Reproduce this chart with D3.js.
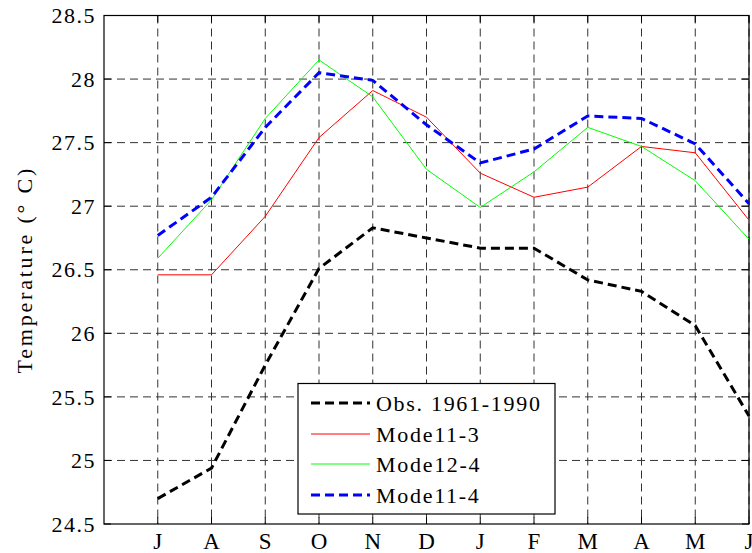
<!DOCTYPE html>
<html>
<head>
<meta charset="utf-8">
<script src="https://cdn.jsdelivr.net/npm/d3@7"></script>
<style>
body{margin:0;background:#fff;}
</style>
</head>
<body>
<svg id="chart" width="752" height="553" font-family="'Liberation Serif', 'Times New Roman', Times, serif"></svg>
<script>
const months = ["J","A","S","O","N","D","J","F","M","A","M","J"];
const yTicks = [24.5,25,25.5,26,26.5,27,27.5,28,28.5];
const obs    = [24.70,24.94,25.75,26.51,26.83,26.75,26.67,26.67,26.42,26.33,26.06,25.35];
const mod13  = [26.46,26.46,26.92,27.54,27.91,27.70,27.26,27.07,27.15,27.47,27.42,26.89];
const mod24  = [26.59,27.05,27.69,28.15,27.86,27.29,26.99,27.27,27.62,27.47,27.20,26.74];
const mod14  = [26.77,27.07,27.62,28.05,27.99,27.64,27.34,27.45,27.71,27.69,27.49,27.02];
const seriesNames = ["Obs. 1961-1990","Mode11-3","Mode12-4","Mode11-4"];

const svg = d3.select("#chart");
const L=104, R=749, T=15.5, B=524;
const x = d3.scaleLinear().domain([0,12]).range([L,R]);
const y = d3.scaleLinear().domain([24.5,28.5]).range([B,T]);
const idx = d3.range(1,13);

// grid
const g = svg.append("g");
g.selectAll(".vg").data(idx).enter().append("line")
  .attr("x1",d=>x(d)).attr("x2",d=>x(d)).attr("y1",T).attr("y2",B)
  .attr("stroke","#333").attr("stroke-width",1).attr("stroke-dasharray","8,5");
g.selectAll(".hg").data(yTicks.slice(1,-1)).enter().append("line")
  .attr("x1",L).attr("x2",R).attr("y1",d=>y(d)).attr("y2",d=>y(d))
  .attr("stroke","#333").attr("stroke-width",1).attr("stroke-dasharray","8,5");

// box
svg.append("rect").attr("x",L).attr("y",T).attr("width",R-L).attr("height",B-T)
  .attr("fill","none").attr("stroke","#000").attr("stroke-width",1.2);

// inward ticks
const tl=7;
idx.forEach(d=>{
  svg.append("line").attr("x1",x(d)).attr("x2",x(d)).attr("y1",B).attr("y2",B-tl).attr("stroke","#000");
  svg.append("line").attr("x1",x(d)).attr("x2",x(d)).attr("y1",T).attr("y2",T+tl).attr("stroke","#000");
});
yTicks.forEach(d=>{
  svg.append("line").attr("x1",L).attr("x2",L+tl).attr("y1",y(d)).attr("y2",y(d)).attr("stroke","#000");
  svg.append("line").attr("x1",R).attr("x2",R-tl).attr("y1",y(d)).attr("y2",y(d)).attr("stroke","#000");
});

// tick labels
svg.selectAll(".xl").data(months).enter().append("text")
  .attr("x",(d,i)=>x(i+1)).attr("y",549).attr("text-anchor","middle")
  .attr("font-size",23).attr("fill","#000").text(d=>d);
svg.selectAll(".yl").data(yTicks).enter().append("text")
  .attr("x",96).attr("y",d=>y(d)).attr("dy","0.35em").attr("text-anchor","end")
  .attr("font-size",22).attr("letter-spacing","1.5px").attr("fill","#000").text(d=>d);

svg.append("text").attr("transform",`translate(32,${(T+B)/2}) rotate(-90)`)
  .attr("text-anchor","middle").attr("font-size",22).attr("letter-spacing","2.8px")
  .attr("fill","#000").text("Temperature (° C)");

// lines
const line = d3.line().x((d,i)=>x(i+1)).y(d=>y(d));
const styles = [
  {data:obs,color:"#000",w:3,dash:"9,5"},
  {data:mod13,color:"#ff0000",w:1,dash:null},
  {data:mod24,color:"#00ff00",w:1,dash:null},
  {data:mod14,color:"#0000ff",w:3,dash:"9,5"}
];
styles.forEach(s=>{
  svg.append("path").datum(s.data).attr("d",line).attr("fill","none")
    .attr("stroke",s.color).attr("stroke-width",s.w)
    .attr("stroke-dasharray",s.dash);
});

// legend
const lg = svg.append("g");
lg.append("rect").attr("x",298).attr("y",383.5).attr("width",257).attr("height",130.5)
  .attr("fill","#fff").attr("stroke","#000").attr("stroke-width",1.2);
const ly = [403,434,464,495];
styles.forEach((s,i)=>{
  lg.append("line").attr("x1",311).attr("x2",370).attr("y1",ly[i]).attr("y2",ly[i])
    .attr("stroke",s.color).attr("stroke-width",s.w).attr("stroke-dasharray",s.dash);
  lg.append("text").attr("x",376).attr("y",ly[i]).attr("dy","0.35em")
    .attr("font-size",22).attr("letter-spacing","1.7px").attr("fill","#000").text(seriesNames[i]);
});
</script>
</body>
</html>
